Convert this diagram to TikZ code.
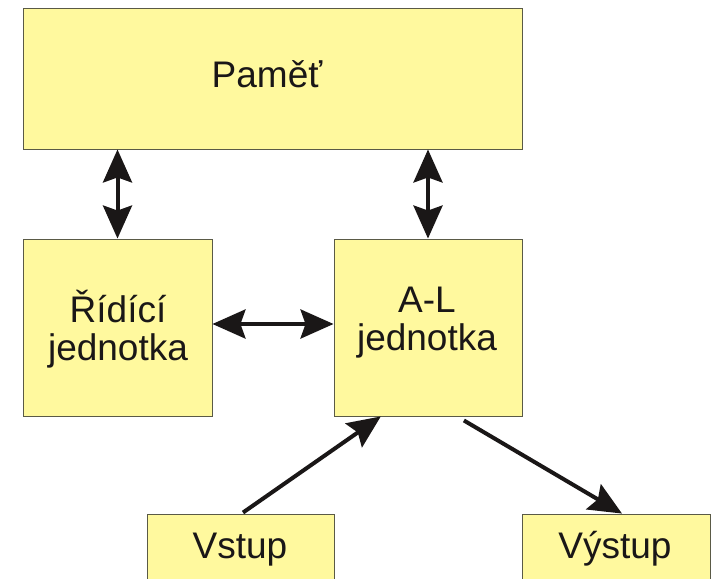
\documentclass[tikz,border=0pt]{standalone}
\usepackage{fontspec}
\setmainfont{Liberation Sans}
\usetikzlibrary{arrows.meta,calc}
\definecolor{boxfill}{RGB}{255,249,158}
\definecolor{boxline}{RGB}{90,90,70}
\definecolor{ink}{RGB}{26,23,23}
\tikzset{
  blok/.style={draw=boxline, line width=0.9pt, fill=boxfill, rectangle, inner sep=0pt},
  popis/.style={text=ink, font=\fontsize{37}{38}\selectfont, align=center, inner sep=0pt},
  sipka/.style={draw=ink, line width=4pt, -{Stealth[length=33pt,width=29pt,inset=5pt]}},
  sipky/.style={draw=ink, line width=4pt, {Stealth[length=33pt,width=29pt,inset=5pt]}-{Stealth[length=33pt,width=29pt,inset=5pt]}}
}
\begin{document}
\begin{tikzpicture}[x=1pt,y=-1pt]
	\useasboundingbox (0,0) rectangle (714,578);
	\clip (0,0) rectangle (714,578);
	% bloky
	\node[blok, minimum width=499pt, minimum height=141pt] (pamet) at (272.5,78.5) {};
	\node[blok, minimum width=189pt, minimum height=177pt] (ridici) at (117.5,327.5) {};
	\node[blok, minimum width=188pt, minimum height=177pt] (al) at (428,327.5) {};
	\node[blok, minimum width=187pt, minimum height=100pt] (vstup) at (240.5,564) {};
	\node[blok, minimum width=188pt, minimum height=100pt] (vystup) at (616,564) {};
	% popisy
	\node[popis, anchor=base] (pamet-t) at (267,87) {Paměť};
	\node[popis, anchor=base] (ridici-t) at (118,360) {Řídící\\jednotka};
	\node[popis, anchor=base] (al-t) at (427,350) {A-L\\jednotka};
	\node[popis, anchor=base] (vstup-t) at (240,558) {Vstup};
	\node[popis, anchor=base] (vystup-t) at (615,558) {Výstup};
	% sipky
	\draw[sipky] (pamet.south -| ridici.north) -- (ridici.north);
	\draw[sipky] (pamet.south -| al.north) -- (al.north);
	\draw[sipky] (ridici.east |- 0,324) -- (al.west |- 0,324);
	\draw[sipka] ($(vstup.north)+(2.5,-1)$) -- ($(al.south west)!0.25!(al.south east)$);
	\draw[sipka] ($(al.south west)!0.69!(al.south east)+(0,4)$) -- ($(vystup.north)+(6,0)$);
\end{tikzpicture}
\end{document}
